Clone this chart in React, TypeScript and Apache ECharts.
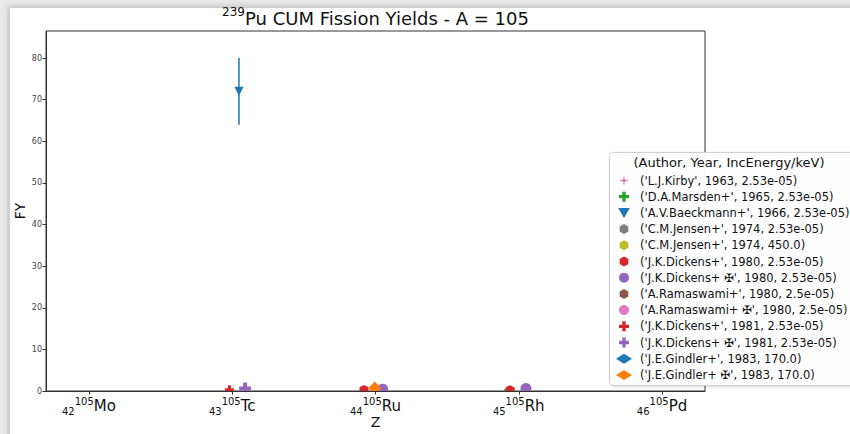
import React, { useEffect, useRef } from "react";
import * as echarts from "echarts";

// Nuclide axis: charge numbers and element symbols for the A = 105 isobar chain
const chargeNumbers = [42, 43, 44, 45, 46];
const elementSymbols = ["Mo", "Tc", "Ru", "Rh", "Pd"];
const massNumber = 105;
const fyTicks = [0, 10, 20, 30, 40, 50, 60, 70, 80];

// Legend labels (author, year, incident energy in keV)
const datasetLabels = [
  "('L.J.Kirby', 1963, 2.53e-05)",
  "('D.A.Marsden+', 1965, 2.53e-05)",
  "('A.V.Baeckmann+', 1966, 2.53e-05)",
  "('C.M.Jensen+', 1974, 2.53e-05)",
  "('C.M.Jensen+', 1974, 450.0)",
  "('J.K.Dickens+', 1980, 2.53e-05)",
  "('J.K.Dickens+ \u2720', 1980, 2.53e-05)",
  "('A.Ramaswami+', 1980, 2.5e-05)",
  "('A.Ramaswami+ \u2720', 1980, 2.5e-05)",
  "('J.K.Dickens+', 1981, 2.53e-05)",
  "('J.K.Dickens+ \u2720', 1981, 2.53e-05)",
  "('J.E.Gindler+', 1983, 170.0)",
  "('J.E.Gindler+ \u2720', 1983, 170.0)",
];

// Points per dataset: [Z (slightly shifted per dataset), FY, FY uncertainty]
const kirbyPts: number[][] = [];
const marsdenPts = [[44.93, 0.15, 0.02]];
const baeckmannPts = [[43.047, 72, 8]];
const jensenThermalPts: number[][] = [];
const jensen450Pts: number[][] = [];
const dickens80Pts = [
  [43.92, 0.35, 0.03],
  [44.94, 0.3, 0.03],
];
const dickens80EvalPts = [
  [44.05, 0.45, 0.04],
  [45.05, 0.6, 0.05],
];
const ramaswamiPts: number[][] = [];
const ramaswamiEvalPts: number[][] = [];
const dickens81Pts = [[42.98, 0.3, 0.03]];
const dickens81EvalPts = [[43.09, 0.6, 0.05]];
const gindlerPts: number[][] = [];
const gindlerEvalPts = [[43.995, 0.7, 0.05]];

// Marker outlines
const thinStar = "path://M3,0L3.55,2.45L6,3L3.55,3.55L3,6L2.45,3.55L0,3L2.45,2.45Z";
const thickPlus = "path://M2,0H4V2H6V4H4V6H2V4H0V2H2Z";
const hexagon = "path://M3,0L5.6,1.5L5.6,4.5L3,6L0.4,4.5L0.4,1.5Z";
const triangleDown = "path://M0,0L6,0L3,5.2Z";

const datasets = [
  { data: kirbyPts, color: "#e377c2", symbol: thinStar, size: 10 },
  { data: marsdenPts, color: "#2ca02c", symbol: thickPlus, size: 9 },
  { data: baeckmannPts, color: "#1f77b4", symbol: triangleDown, size: 9 },
  { data: jensenThermalPts, color: "#7f7f7f", symbol: hexagon, size: 9 },
  { data: jensen450Pts, color: "#bcbd22", symbol: hexagon, size: 9 },
  { data: dickens80Pts, color: "#d62728", symbol: hexagon, size: 9 },
  { data: dickens80EvalPts, color: "#9467bd", symbol: "circle", size: 11 },
  { data: ramaswamiPts, color: "#8c564b", symbol: hexagon, size: 9 },
  { data: ramaswamiEvalPts, color: "#e377c2", symbol: "circle", size: 11 },
  { data: dickens81Pts, color: "#d62728", symbol: thickPlus, size: 9 },
  { data: dickens81EvalPts, color: "#9467bd", symbol: thickPlus, size: 12 },
  { data: gindlerPts, color: "#1f77b4", symbol: "diamond", size: 9 },
  { data: gindlerEvalPts, color: "#ff7f0e", symbol: "diamond", size: 13 },
];

const FONT = "DejaVu Sans";
const AXIS_COLOR = "#333";

const GRID = { left: 46, top: 31, right: 145, bottom: 43 };

export default function App() {
  const ref = useRef<HTMLDivElement>(null);

  useEffect(() => {
    if (!ref.current) return;
    const chart = echarts.init(ref.current, null, { renderer: "svg" });

    const scatterSeries = datasets.map((d, i) => ({
      type: "scatter",
      name: datasetLabels[i],
      data: d.data.map((p) => [p[0], p[1]]),
      symbol: d.symbol,
      symbolSize: d.size,
      itemStyle: { color: d.color, opacity: 1 },
      z: 3,
    }));

    const errorSeries = datasets
      .map((d, i) => ({ d, i }))
      .filter(({ d }) => d.data.some((p) => p[2] > 0.5))
      .map(({ d, i }) => ({
        type: "custom",
        name: "err-" + i,
        data: d.data.map((p) => [p[0], p[1] - p[2], p[1] + p[2]]),
        z: 2,
        renderItem: (params: any, api: any) => {
          const x = api.value(0);
          const a = api.coord([x, api.value(1)]);
          const b = api.coord([x, api.value(2)]);
          return {
            type: "line",
            shape: { x1: a[0], y1: a[1], x2: b[0], y2: b[1] },
            style: { stroke: d.color, lineWidth: 1.5 },
          };
        },
      }));

    const plotW = 850 - GRID.left - GRID.right;

    chart.setOption({
      animation: false,
      backgroundColor: "transparent",
      textStyle: { fontFamily: FONT },
      grid: {
        ...GRID,
        show: true,
        borderColor: AXIS_COLOR,
        borderWidth: 1,
        backgroundColor: "transparent",
        containLabel: false,
        outerBoundsMode: "none",
      },
      xAxis: {
        type: "value",
        min: 41.7,
        max: 46.3,
        z: 10,
        name: "Z",
        nameLocation: "middle",
        nameGap: 24,
        nameMoveOverlap: false,
        nameTextStyle: { fontSize: 14, color: "#111", fontFamily: FONT },
        splitLine: { show: false },
        axisLine: { lineStyle: { color: AXIS_COLOR, width: 1 } },
        axisTick: {
          length: 3.5,
          lineStyle: { color: AXIS_COLOR },
          customValues: chargeNumbers,
        },
        axisLabel: {
          margin: 5,
          customValues: chargeNumbers,
          formatter: (v: number) => {
            const k = chargeNumbers.indexOf(Math.round(v));
            if (k < 0) return "";
            return `{z|${chargeNumbers[k]}}{a|${massNumber}}{e|${elementSymbols[k]}}`;
          },
          rich: {
            z: { fontSize: 10, color: "#111", fontFamily: FONT, verticalAlign: "bottom", lineHeight: 20 },
            a: { fontSize: 10, color: "#111", fontFamily: FONT, verticalAlign: "top", lineHeight: 20 },
            e: { fontSize: 15, color: "#111", fontFamily: FONT, verticalAlign: "middle", lineHeight: 20 },
          },
        },
      },
      yAxis: {
        type: "value",
        min: 0,
        max: 86.5,
        z: 10,
        name: "FY",
        nameLocation: "middle",
        nameGap: 19,
        nameMoveOverlap: false,
        nameRotate: 90,
        nameTextStyle: { fontSize: 14, color: "#111", fontFamily: FONT },
        splitLine: { show: false },
        axisLine: { show: true, lineStyle: { color: AXIS_COLOR, width: 1 } },
        axisTick: {
          show: true,
          length: 3.5,
          lineStyle: { color: AXIS_COLOR },
          customValues: fyTicks,
        },
        axisLabel: {
          margin: 4,
          fontSize: 8,
          color: "#444",
          fontFamily: FONT,
          customValues: fyTicks,
        },
      },
      legend: {
        show: true,
        orient: "vertical",
        left: 616,
        top: 174.5,
        padding: 0,
        itemWidth: 16,
        itemHeight: 10,
        itemGap: 4.2,
        data: datasetLabels,
        textStyle: {
          fontSize: 11.5,
          color: "#111",
          fontFamily: FONT,
          padding: [0, 0, 0, 3],
        },
        z: 20,
      },
      graphic: [
        // white strip hiding the part of the markers that falls below the frame
        {
          type: "rect",
          z: 5,
          silent: true,
          shape: { x: GRID.left + 1, y: 434 - GRID.bottom + 1, width: plotW - 2, height: 9 },
          style: { fill: "#fff" },
        },
        {
          type: "text",
          z: 10,
          x: GRID.left + plotW / 2,
          y: 18,
          style: {
            text: "{s|239}{t|Pu CUM Fission Yields - A = 105}",
            align: "center",
            verticalAlign: "middle",
            rich: {
              s: { fontSize: 12, fill: "#111", fontFamily: FONT, verticalAlign: "top", lineHeight: 24 },
              t: { fontSize: 18, fill: "#111", fontFamily: FONT, verticalAlign: "middle", lineHeight: 24 },
            },
          },
        },
        // legend frame and title
        {
          type: "rect",
          z: 15,
          shape: { x: 609.5, y: 152.5, width: 245, height: 233, r: 4 },
          style: {
            fill: "rgba(255,255,255,0.95)",
            stroke: "#cfcfcf",
            lineWidth: 1,
            shadowBlur: 3,
            shadowColor: "rgba(0,0,0,0.15)",
            shadowOffsetX: 1,
            shadowOffsetY: 1,
          },
        },
        {
          type: "text",
          z: 16,
          x: 729,
          y: 162.5,
          style: {
            text: "(Author, Year, IncEnergy/keV)",
            align: "center",
            verticalAlign: "middle",
            fontSize: 13,
            fontFamily: FONT,
            fill: "#111",
          },
        },
      ],
      series: [...errorSeries, ...scatterSeries],
    });

    return () => chart.dispose();
  }, []);

  return (
    <div style={{ position: "fixed", left: 0, top: 0, width: 850, height: 434, background: "#e9e9e9", overflow: "hidden" }}>
      <div
        style={{
          position: "absolute",
          left: 10,
          top: 8,
          width: 860,
          height: 450,
          background: "#fff",
          boxShadow: "-2px -2px 6px rgba(0,0,0,0.18)",
        }}
      />
      <div ref={ref} style={{ position: "absolute", left: 0, top: 0, width: 850, height: 434 }} />
    </div>
  );
}
